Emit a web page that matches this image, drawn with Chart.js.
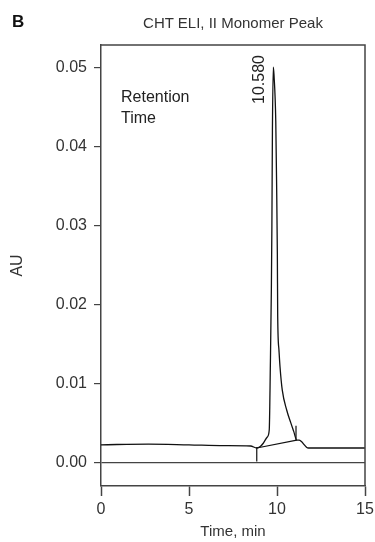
<!DOCTYPE html>
<html>
<head>
<meta charset="utf-8">
<script src="https://cdn.jsdelivr.net/npm/chart.js@4/dist/chart.umd.min.js"></script>
<style>
  html, body { margin:0; padding:0; background:#fff; }
  #wrap { position:relative; width:375px; height:542px; font-family:"Liberation Sans", Arial, sans-serif; }
  #lbl-b { position:absolute; left:12px; top:12px; font-size:17px; font-weight:bold; color:#111; }
  #ttl { position:absolute; left:101px; width:264px; top:14px; text-align:center; font-size:15px; color:#333; }
  canvas { position:absolute; left:0; top:0; }
</style>
</head>
<body>
<div id="wrap">
  <canvas id="c" width="375" height="542"></canvas>
  <div id="lbl-b">B</div>
  <div id="ttl">CHT ELI, II Monomer Peak</div>
</div>
<script>
// chromatogram trace (time in min, absorbance in AU)
const traceTime = [0, 2.7, 5, 7, 8.5, 8.85, 9.05, 9.22, 9.45, 9.56, 9.62, 9.68, 9.71, 9.74, 9.79, 9.83, 9.93, 9.98, 10.02, 10.04, 10.11, 10.17, 10.3, 10.55, 10.78, 10.95, 11.12, 11.25, 11.78, 15];
const traceAU   = [0.0023, 0.0024, 0.0023, 0.0022, 0.00215, 0.0019, 0.0021, 0.0025, 0.0033, 0.0042, 0.012, 0.022, 0.030, 0.042, 0.050, 0.049, 0.0432, 0.0348, 0.0263, 0.0185, 0.0143, 0.0122, 0.0092, 0.0067, 0.0051, 0.0040, 0.0029, 0.0029, 0.0019, 0.0019];

// integration baseline + peak start/end markers
const baseTime = [8.85, 11.12];
const baseAU   = [0.0019, 0.0029];
const startTime = [8.85, 8.85];
const startAU   = [0.0020, 0.0002];
const endTime = [11.08, 11.08];
const endAU   = [0.0047, 0.0028];

const peakTime = 9.79;
const peakLabel = '10.580';

const xTicks = [0, 5, 10, 15];
const yTicks = [0, 0.01, 0.02, 0.03, 0.04, 0.05];

const FONT = '"Liberation Sans", Arial, sans-serif';
const pts = (xs, ys) => xs.map((x, i) => ({x: x, y: ys[i]}));

const frame = {
  id: 'frame',
  afterDraw(chart) {
    const a = chart.chartArea, c = chart.ctx;
    c.save();
    c.strokeStyle = '#444';
    c.lineWidth = 1.5;
    c.beginPath();
    c.moveTo(a.left, a.top); c.lineTo(a.right, a.top); c.lineTo(a.right, a.bottom);
    c.stroke();
    // text annotations
    c.fillStyle = '#222';
    c.font = '16px ' + FONT;
    c.textAlign = 'left';
    c.textBaseline = 'alphabetic';
    c.fillText('Retention', a.left + 20, a.top + 57);
    c.fillText('Time', a.left + 20, a.top + 78);
    const px = chart.scales.x.getPixelForValue(peakTime) - 9;
    c.translate(px, a.top + 10);
    c.rotate(-Math.PI / 2);
    c.textAlign = 'right';
    c.fillText(peakLabel, 0, 0);
    c.restore();
  }
};

const line = (data, w, smooth) => ({
  data: data, borderColor: '#111', borderWidth: w, pointRadius: 0, showLine: true,
  tension: smooth ? 0.4 : 0, cubicInterpolationMode: smooth ? 'monotone' : 'default', fill: false
});

new Chart(document.getElementById('c'), {
  type: 'scatter',
  data: {
    datasets: [
      line(pts(traceTime, traceAU), 1.3, true),
      line(pts(baseTime, baseAU), 1.2),
      line(pts(startTime, startAU), 1.2),
      line(pts(endTime, endAU), 1.2)
    ]
  },
  options: {
    responsive: false,
    animation: false,
    layout: { padding: { left: 0, right: 10, top: 45, bottom: 0 } },
    plugins: { legend: { display: false }, tooltip: { enabled: false } },
    scales: {
      x: {
        type: 'linear', min: 0, max: 15,
        afterBuildTicks: s => { s.ticks = xTicks.map(v => ({value: v})); },
        afterFit: s => { s.height = 56; s.paddingLeft = 0; s.paddingRight = 0; },
        border: { color: '#444', width: 1.5 },
        grid: { drawOnChartArea: false, tickLength: 10, tickColor: '#444', tickWidth: 1.5 },
        ticks: { color: '#333', font: { family: FONT, size: 16 }, padding: 4, maxRotation: 0 },
        title: { display: true, text: 'Time, min', color: '#333', font: { family: FONT, size: 15 }, padding: { top: 2, bottom: 1 } }
      },
      y: {
        type: 'linear', min: -0.0029, max: 0.0528,
        afterBuildTicks: s => { s.ticks = yTicks.map(v => ({value: v})); },
        afterFit: s => { s.width = 101; },
        border: { color: '#444', width: 1.5 },
        grid: {
          drawOnChartArea: true, tickLength: 7, tickColor: '#444', tickWidth: 1.2,
          color: ctx => (ctx.tick && ctx.tick.value === 0) ? '#444' : 'rgba(0,0,0,0)',
          lineWidth: 1.2
        },
        ticks: { color: '#333', font: { family: FONT, size: 16 }, padding: 7, callback: v => v.toFixed(2) },
        title: { display: true, text: 'AU', color: '#333', font: { family: FONT, size: 16 }, padding: { top: 8, bottom: 0 } }
      }
    }
  },
  plugins: [frame]
});
</script>
</body>
</html>
